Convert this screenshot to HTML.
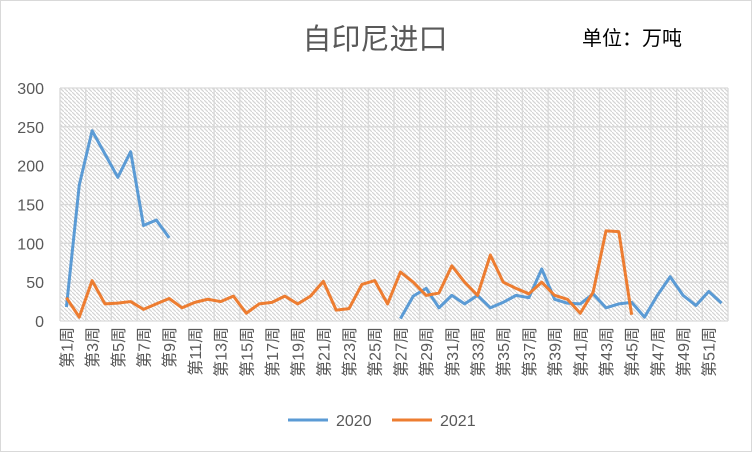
<!DOCTYPE html>
<html><head><meta charset="utf-8"><style>
body{margin:0;background:#fff;}
svg{display:block;font-family:"Liberation Sans","Noto Sans CJK SC",sans-serif;}
</style></head><body>
<svg id="chart" width="752" height="452" xmlns="http://www.w3.org/2000/svg">
<defs>
<pattern id="hatch" width="4" height="4" patternUnits="userSpaceOnUse">
<rect width="4" height="4" fill="#fff"/>
<path d="M0,0 L4,4" stroke="#d4d4d4" stroke-width="1.2"/>
</pattern>
</defs>
<rect x="0.5" y="0.5" width="751" height="451" fill="#fff" stroke="#d9d9d9"/>
<text x="375" y="49" text-anchor="middle" font-size="29" fill="#595959">自印尼进口</text>
<text x="582" y="45" font-size="20" fill="#000">单位：万吨</text>
<rect x="60" y="88" width="668" height="233" fill="url(#hatch)"/>
<g id="grid"></g><g id="ylabels"></g><g id="xlabels"></g><g id="series"></g>
<g>
<line x1="288" y1="420" x2="328" y2="420" stroke="#5b9bd5" stroke-width="3"/>
<text x="336" y="426" font-size="16" fill="#595959">2020</text>
<line x1="392" y1="420" x2="432" y2="420" stroke="#ed7d31" stroke-width="3"/>
<text x="440" y="426" font-size="16" fill="#595959">2021</text>
</g>
</svg>
<script>
const categories = Array.from({length:52},(_,i)=>'第'+(i+1)+'周');
const yTicks = [0,50,100,150,200,250,300];
const s2020 = [18,175,245,215,185,218,123,130,107,null,null,null,null,null,null,null,null,null,null,null,null,null,null,null,null,null,3,32,42,17,33,22,33,17,24,33,30,67,28,23,22,35,17,22,24,5,33,57,33,20,38,23];
const s2021 = [30,5,52,22,23,25,15,22,29,17,24,28,25,32,10,22,24,32,22,32,51,14,16,47,52,22,63,50,33,36,71,50,33,85,50,42,35,50,33,28,10,37,116,115,8];
const NS='http://www.w3.org/2000/svg';
const L=60,R=728,T=88,B=321,yMax=300;
const bw=(R-L)/categories.length;
const xs=i=>L+bw*(i+0.5);
const ys=v=>B-(v/yMax)*(B-T);
function mk(tag,attrs,parent){const e=document.createElementNS(NS,tag);for(const k in attrs)e.setAttribute(k,attrs[k]);parent.appendChild(e);return e;}
const grid=document.getElementById('grid');
yTicks.forEach(t=>{
const l=mk('line',{x1:L,x2:R,y1:ys(t),y2:ys(t),stroke:'#d9d9d9','stroke-width':1.3},grid);


const tx=mk('text',{x:44,y:ys(t)+6,'text-anchor':'end','font-size':16,fill:'#595959'},document.getElementById('ylabels'));


tx.textContent=t;
});
for(let i=0;i<=categories.length;i+=2){
const l=mk('line',{x1:L+bw*i,x2:L+bw*i,y1:T,y2:B,stroke:'#d9d9d9','stroke-width':1.3},grid);


}
categories.forEach((c,i)=>{
if(i%2)return;
const x=xs(i)+6,y=327;
const tx=mk('text',{x:x,y:y,'text-anchor':'end','font-size':16,fill:'#595959',transform:`rotate(-90 ${x} ${y})`},document.getElementById('xlabels'));


tx.textContent=c;
});
function drawSeries(arr,color,name){
let d='',pen=false;
arr.forEach((v,i)=>{if(v==null){pen=false;return;}d+=(pen?'L':'M')+xs(i)+','+ys(v)+' ';pen=true;});
const p=mk('path',{d:d,fill:'none',stroke:color,'stroke-width':3,'stroke-linejoin':'round'},document.getElementById('series'));


}
drawSeries(s2020,'#5b9bd5','series-2020-line');
drawSeries(s2021,'#ed7d31','series-2021-line');
</script>
</body></html>
